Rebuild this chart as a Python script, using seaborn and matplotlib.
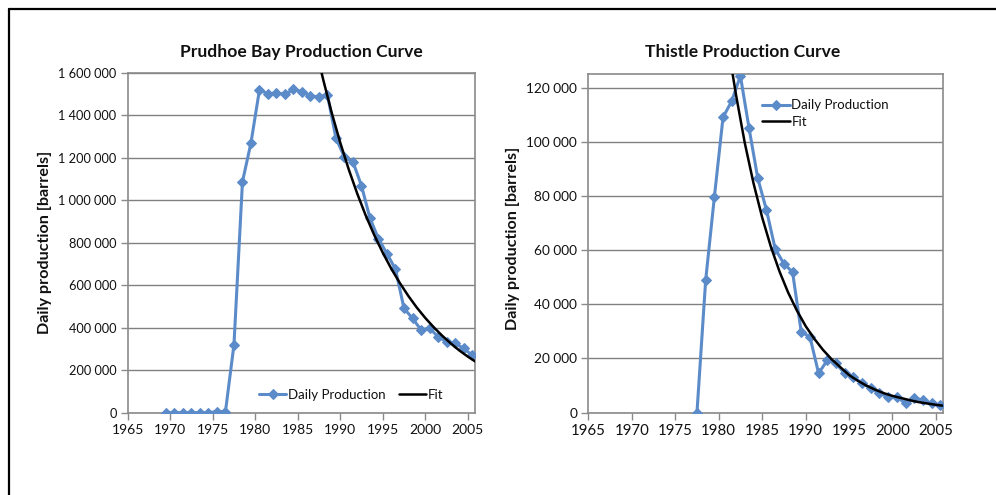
import numpy as np
import pandas as pd
import matplotlib
matplotlib.use("Agg")
import matplotlib.pyplot as plt
from matplotlib.ticker import FuncFormatter, MultipleLocator
from matplotlib.lines import Line2D
import seaborn as sns

# ---- Prudhoe Bay: daily production (mid-year points) and decline fit ----
prudhoe_years = list(range(1969, 2006))
prudhoe_daily = [0, 0, 0, 0, 0, 0, 5000, 5000, 320000, 1087000, 1270000,
                 1520000, 1500000, 1505000, 1498000, 1522000, 1511000,
                 1490000, 1487000, 1495000, 1291000, 1203000, 1180000,
                 1068000, 915000, 818000, 748000, 675000, 491000, 444000,
                 390000, 397000, 358000, 334000, 326000, 303000, 271000]
prudhoe_fit_years = [1987.5, 1988, 1989, 1990, 1991, 1992, 1993, 1994, 1995,
                     1996, 1997, 1998, 1999, 2000, 2001, 2002, 2003, 2004,
                     2005, 2006]
prudhoe_fit = [1651000, 1567000, 1411000, 1271000, 1145000, 1031000, 928000,
               836000, 753000, 678000, 611000, 550000, 495000, 446000, 402000,
               362000, 326000, 293000, 264000, 238000]

# ---- Thistle: daily production and decline fit ----
thistle_years = list(range(1977, 2006))
thistle_daily = [0, 48800, 79500, 109000, 115000, 124300, 104900, 86500,
                 74800, 60500, 55000, 51900, 29800, 28000, 14500, 19400,
                 18200, 14500, 13200, 10800, 9000, 7100, 5900, 5900, 3400,
                 5300, 4700, 3400, 2800]
thistle_fit_years = [1981.5, 1982, 1983, 1984, 1985, 1986, 1987, 1988, 1989,
                     1990, 1991, 1992, 1993, 1994, 1995, 1996, 1997, 1998,
                     1999, 2000, 2001, 2002, 2003, 2004, 2005, 2006]
thistle_fit = [127000, 117200, 99600, 84800, 72100, 61300, 52100, 44300,
               37700, 32000, 27300, 23200, 19700, 16800, 13900, 11800, 10000,
               8500, 7200, 6200, 5400, 4600, 3900, 3400, 2900, 2500]

xticks = [1965, 1970, 1975, 1980, 1985, 1990, 1995, 2000, 2005]

sns.set_theme(style="white")
plt.rcParams["font.family"] = ["Lato", "DejaVu Sans"]

BLUE = "#5B8BC9"
GRID = "#808080"
SPINE = "#8a8a8a"
INK = "#111111"

fig = plt.figure(figsize=(9.96, 4.95), dpi=100)
ax1 = fig.add_axes([0.1282, 0.1663, 0.3487, 0.6868])
ax2 = fig.add_axes([0.5907, 0.1663, 0.3564, 0.6842])


def space_sep(v, pos):
    return f"{int(round(v)):,}".replace(",", " ")


def draw(ax, years, daily, fit_years, fit, ymax, ystep, xfs, yfs):
    prod = pd.DataFrame({"year": np.array(years) + 0.5, "value": daily})
    fitdf = pd.DataFrame({"year": fit_years, "value": fit})
    sns.lineplot(data=prod, x="year", y="value", ax=ax, color=BLUE,
                 linewidth=2.2, marker="D", markersize=5.5,
                 markeredgecolor=BLUE, label="Daily Production", zorder=3)
    sns.lineplot(data=fitdf, x="year", y="value", ax=ax, color="black",
                 linewidth=1.8, label="Fit", zorder=4)
    ax.set_xlim(1965, 2005.85)
    ax.set_ylim(0, ymax)
    ax.set_xticks(xticks)
    ax.yaxis.set_major_locator(MultipleLocator(ystep))
    ax.yaxis.set_major_formatter(FuncFormatter(space_sep))
    ax.grid(axis="y", color=GRID, linewidth=1.0)
    ax.grid(axis="x", visible=False)
    ax.set_axisbelow(True)
    for sp in ax.spines.values():
        sp.set_color(SPINE)
        sp.set_linewidth(1.2)
        sp.set_visible(True)
    ax.tick_params(axis="both", which="major", direction="out", length=5,
                   width=1.0, color=SPINE, bottom=True, left=True, pad=3)
    ax.tick_params(axis="x", labelsize=xfs, labelcolor=INK)
    ax.tick_params(axis="y", labelsize=yfs, labelcolor=INK)
    ax.set_xlabel("")
    ax.set_ylabel("")


draw(ax1, prudhoe_years, prudhoe_daily, prudhoe_fit_years, prudhoe_fit,
     1600000, 200000, 10.0, 9.2)
draw(ax2, thistle_years, thistle_daily, thistle_fit_years, thistle_fit,
     125000, 20000, 10.8, 9.8)

ax1.legend(loc="center", bbox_to_anchor=(0.643, 0.052), ncol=2, frameon=False,
           fontsize=9.5, handlelength=2.1, handletextpad=0.1,
           columnspacing=1.0, borderpad=0, borderaxespad=0, labelcolor=INK)
ax2.legend(loc="upper left", bbox_to_anchor=(0.49, 0.925), ncol=1,
           frameon=False, fontsize=9.5, handlelength=2.1, handletextpad=0.1,
           labelspacing=0.35, borderpad=0, borderaxespad=0, labelcolor=INK)

fig.text(0.303, 0.895, "Prudhoe Bay Production Curve", ha="center",
         va="center", fontsize=12.6, fontweight="bold", color=INK)
fig.text(0.746, 0.895, "Thistle Production Curve", ha="center",
         va="center", fontsize=12.6, fontweight="bold", color=INK)
fig.text(45 / 996, 1 - 242 / 495, "Daily production [barrels]", ha="center",
         va="center", rotation=90, fontsize=11.6, fontweight="bold",
         color=INK)
fig.text(513 / 996, 1 - 238 / 495, "Daily production [barrels]", ha="center",
         va="center", rotation=90, fontsize=11.6, fontweight="bold",
         color=INK)

# outer frame: top and left edges
fig.add_artist(Line2D([9 / 996, 1.0], [1 - 8.5 / 495, 1 - 8.5 / 495],
                      transform=fig.transFigure, color="black", linewidth=1.6))
fig.add_artist(Line2D([9 / 996, 9 / 996], [0.0, 1 - 8.5 / 495],
                      transform=fig.transFigure, color="black", linewidth=1.6))

fig.savefig("out.png", dpi=100, facecolor="white")
